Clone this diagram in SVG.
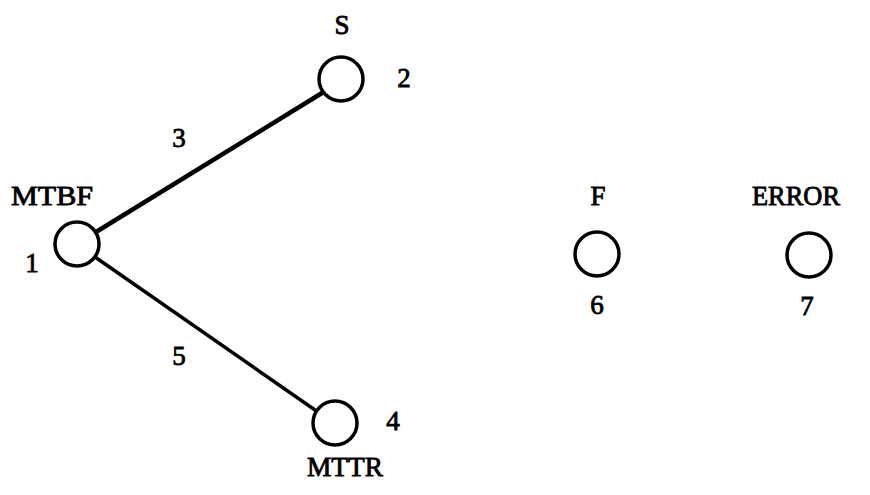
<svg xmlns="http://www.w3.org/2000/svg" width="870" height="495" viewBox="0 0 870 495">
<style>
.n{fill:none;stroke:#000;stroke-width:3.5}
.e{stroke:#000;stroke-linecap:round}
text{font-family:"Liberation Serif","Times New Roman",serif;font-size:27px;fill:#000;stroke:#000;stroke-width:0.8;text-anchor:middle}
</style>
<rect width="870" height="495" fill="#fff"/>
<g id="edges">
<line class="e" x1="96" y1="232" x2="322" y2="93" stroke-width="4.5"/>
<line class="e" x1="95" y1="257" x2="315" y2="410" stroke-width="3.5"/>
<text x="179" y="147">3</text>
<text x="179" y="365">5</text>
</g>
<g id="node1">
<circle class="n" cx="77" cy="244" r="22"/>
<text x="52" y="205" textLength="82" lengthAdjust="spacingAndGlyphs">MTBF</text>
<text x="32" y="272">1</text>
</g>
<g id="node2">
<circle class="n" cx="341" cy="79" r="22"/>
<text x="342" y="34">S</text>
<text x="404" y="87">2</text>
</g>
<g id="node4">
<circle class="n" cx="335" cy="423" r="22"/>
<text x="393" y="430">4</text>
<text x="345" y="476" textLength="76" lengthAdjust="spacingAndGlyphs">MTTR</text>
</g>
<g id="node6">
<circle class="n" cx="597" cy="254" r="22"/>
<text x="598" y="205">F</text>
<text x="597" y="314">6</text>
</g>
<g id="node7">
<circle class="n" cx="809" cy="255" r="22"/>
<text x="796" y="205" textLength="88" lengthAdjust="spacingAndGlyphs">ERROR</text>
<text x="807" y="315">7</text>
</g>
</svg>
